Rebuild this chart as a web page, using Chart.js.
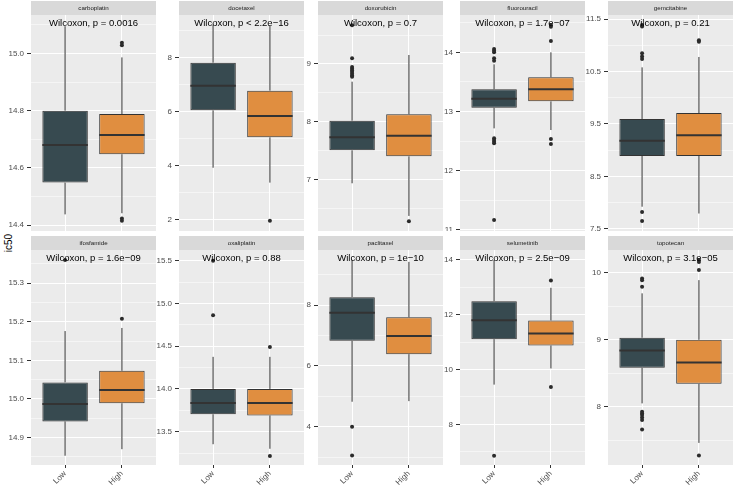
<!DOCTYPE html>
<html><head><meta charset="utf-8">
<script src="https://cdn.jsdelivr.net/npm/chart.js@4/dist/chart.umd.min.js"></script>
<style>
html,body{margin:0;padding:0;background:#fff;}
#wrap{position:relative;width:734px;height:486px;overflow:hidden;background:#fff;font-family:"Liberation Sans",Arial,sans-serif;}
#wrap canvas{position:absolute;}
#ytitle{position:absolute;left:8px;top:243px;transform:translate(-50%,-50%) rotate(-90deg);font-size:10px;color:#000;white-space:nowrap;}
</style></head><body>
<div id="wrap"><div id="ytitle">ic50</div></div>
<script>
// ---- data ----
const drugs = ['carboplatin','docetaxel','doxorubicin','fluorouracil','gemcitabine',
               'ifosfamide','oxaliplatin','paclitaxel','selumetinib','topotecan'];
const pLabels = ['Wilcoxon, p = 0.0016','Wilcoxon, p < 2.2e\u221216','Wilcoxon, p = 0.7',
                 'Wilcoxon, p = 1.7e\u221207','Wilcoxon, p = 0.21','Wilcoxon, p = 1.6e\u221209',
                 'Wilcoxon, p = 0.88','Wilcoxon, p = 1e\u221210','Wilcoxon, p = 2.5e\u221209',
                 'Wilcoxon, p = 3.1e\u221205'];
const groups = ['Low','High'];

const lowMin = [14.438, 3.93, 6.943, 12.716, 7.92, 14.853, 13.353, 4.82, 9.45, 8.05];
const lowQ1  = [14.549, 6.055, 7.512, 13.065, 8.889, 14.942, 13.704, 6.826, 11.11, 8.582];
const lowMed = [14.68, 6.965, 7.736, 13.216, 9.181, 14.987, 13.836, 7.747, 11.803, 8.84];
const lowQ3  = [14.80, 7.815, 8.022, 13.375, 9.596, 15.043, 14.0, 8.26, 12.496, 9.03];
const lowMax = [15.095, 9.22, 8.695, 13.797, 10.582, 15.176, 14.375, 9.49, 14.0, 9.693];
const lowOut = [
  [], [], [9.67, 9.098, 8.95, 8.92, 8.89, 8.86, 8.83, 8.80, 8.78],
  [14.056, 14.027, 14.0, 13.899, 13.858, 12.547, 12.519, 12.49, 12.463, 11.17],
  [11.39, 11.36, 10.85, 10.79, 10.74, 7.82, 7.647],
  [15.36], [15.5, 14.863], [4.0, 3.05], [6.85],
  [9.916, 9.89, 9.79, 7.925, 7.90, 7.875, 7.84, 7.80, 7.66]
];
const highMin = [14.442, 3.38, 6.38, 12.688, 7.79, 14.87, 13.3, 4.84, 10.04, 7.46];
const highQ1  = [14.648, 5.057, 7.408, 13.172, 8.889, 14.989, 13.69, 6.385, 10.88, 8.343];
const highMed = [14.715, 5.845, 7.764, 13.375, 9.283, 15.023, 13.836, 6.98, 11.318, 8.66];
const highQ3  = [14.788, 6.78, 8.132, 13.578, 9.71, 15.073, 14.0, 7.595, 11.79, 9.0];
const highMax = [14.986, 9.19, 9.155, 14.0, 10.78, 15.184, 14.375, 9.42, 12.985, 9.89];
const highOut = [
  [15.037, 15.028, 14.424, 14.416], [1.97], [6.29],
  [14.46, 14.43, 14.19, 12.535, 12.45], [11.1, 11.07],
  [15.208], [14.49, 13.215], [], [13.25, 9.36], [10.19, 10.16, 10.04, 7.27]
];
const yMin = [14.38, 1.59, 6.12, 10.983, 7.456, 14.829, 13.11, 2.74, 6.515, 7.13];
const yMax = [15.134, 9.58, 9.845, 14.63, 11.582, 15.386, 15.625, 9.81, 14.365, 10.34];
const yTicks = [
  ['14.4','14.6','14.8','15.0'], ['2','4','6','8'], ['7','8','9'], ['11','12','13','14'],
  ['7.5','8.5','9.5','10.5','11.5'], ['14.9','15.0','15.1','15.2','15.3'],
  ['13.5','14.0','14.5','15.0','15.5'], ['4','6','8'], ['8','10','12','14'], ['8','9','10']
];

// ---- layout / style ----
const FONT = '"Liberation Sans", Arial, sans-serif';
const LOWC = '#374A50', HIGHC = '#E08E40', LINEC = '#333333';
const panelLeft = [31, 179, 318, 460, 608];
const PW = 125, YW = 30, STRIP = 14, PADTOP = 15;
const rowTop = [0, 235], plotH = [216, 215], XH = [0, 21];
const BOXW = 0.8;

const panelPlugin = {
  id: 'panel',
  beforeDraw(chart, args, o) {
    const {ctx, chartArea: a} = chart;
    ctx.save();
    ctx.fillStyle = '#EBEBEB';
    ctx.fillRect(a.left, a.top, a.right - a.left, a.bottom - a.top);
    ctx.fillStyle = '#D9D9D9';
    ctx.fillRect(a.left, a.top - STRIP, a.right - a.left, STRIP);
    ctx.fillStyle = '#1A1A1A';
    ctx.font = '6.2px ' + FONT;
    ctx.textAlign = 'center'; ctx.textBaseline = 'middle';
    ctx.fillText(o.strip, (a.left + a.right) / 2, a.top - STRIP / 2 + 0.5);
    ctx.restore();
  },
  afterDatasetsDraw(chart, args, o) {
    const {ctx, chartArea: a} = chart;
    ctx.save();
    ctx.fillStyle = '#000';
    ctx.font = '9.5px ' + FONT;
    ctx.textAlign = 'center'; ctx.textBaseline = 'middle';
    ctx.fillText(o.label, chart.scales.x.getPixelForValue(1.5), a.top + 8);
    ctx.restore();
  }
};

const wrap = document.getElementById('wrap');

drugs.forEach((drug, i) => {
  const row = Math.floor(i / 5), col = i % 5;
  const w = PW + YW, h = PADTOP + plotH[row] + XH[row];
  const cv = document.createElement('canvas');
  cv.width = w; cv.height = h;
  cv.style.left = (panelLeft[col] - YW) + 'px';
  cv.style.top = rowTop[row] + 'px';
  cv.style.width = w + 'px'; cv.style.height = h + 'px';
  wrap.appendChild(cv);

  // ticks: majors from labels, minors halfway
  const majors = yTicks[i].map(Number);
  const step = majors[1] - majors[0];
  const tickList = [];
  for (let k = -3; k < majors.length + 3; k++) {
    const v = majors[0] + k * step;
    const m = v + step / 2;
    if (v >= yMin[i] && v <= yMax[i] && k >= 0 && k < majors.length) tickList.push({value: v, minor: false, text: yTicks[i][k]});
    else if (v >= yMin[i] && v <= yMax[i]) tickList.push({value: v, minor: true, text: ''});
    if (m >= yMin[i] && m <= yMax[i]) tickList.push({value: m, minor: true, text: ''});
  }
  tickList.sort((a, b) => a.value - b.value);

  const outliers = lowOut[i].map(v => ({x: 1, y: v})).concat(highOut[i].map(v => ({x: 2, y: v})));
  const meds = [lowMed[i], highMed[i]];
  const medData = [];
  meds.forEach((m, k) => {
    if (k) medData.push({x: k + 0.5, y: null});
    medData.push({x: k + 1 - BOXW / 2, y: m}, {x: k + 1 + BOXW / 2, y: m});
  });
  const wh = [[lowMin[i], lowQ1[i], lowQ3[i], lowMax[i]], [highMin[i], highQ1[i], highQ3[i], highMax[i]]];
  const whData = [];
  wh.forEach((s, k) => {
    const x = k + 1;
    whData.push({x, y: s[0]}, {x, y: s[1]}, {x, y: null}, {x, y: s[2]}, {x, y: s[3]}, {x, y: null});
  });

  new Chart(cv, {
    type: 'bar',
    data: {
      datasets: [
        {type: 'line', data: outliers, showLine: false, pointRadius: 2, pointBorderWidth: 0,
         pointBackgroundColor: '#2b2b2b', borderColor: '#2b2b2b'},
        {type: 'line', data: medData, borderColor: LINEC, borderWidth: 2, pointRadius: 0, spanGaps: false},
        {type: 'bar', data: [{x: 1, y: [lowQ1[i], lowQ3[i]]}, {x: 2, y: [highQ1[i], highQ3[i]]}],
         backgroundColor: [LOWC, HIGHC], borderColor: LINEC, borderWidth: 1, borderSkipped: false,
         barPercentage: BOXW, categoryPercentage: 1},
        {type: 'line', data: whData, borderColor: LINEC, borderWidth: 1, pointRadius: 0, spanGaps: false}
      ]
    },
    options: {
      responsive: false, animation: false, devicePixelRatio: 1, events: [],
      layout: {padding: {top: PADTOP, left: 0, right: 0, bottom: 0}, autoPadding: false},
      plugins: {legend: {display: false}, tooltip: {enabled: false}, title: {display: false},
                panel: {strip: drug, label: pLabels[i]}},
      scales: {
        x: {
          type: 'linear', min: 0.4, max: 2.6, offset: false,
          afterBuildTicks: s => { s.ticks = groups.map((g, k) => ({value: k + 1})); },
          afterFit: s => { s.height = XH[row]; s.paddingLeft = 0; s.paddingRight = 0; },
          ticks: {display: row === 1, autoSkip: false, minRotation: 45, maxRotation: 45,
                  color: '#4D4D4D', font: {family: FONT, size: 8}, padding: 1,
                  callback: (v, idx) => groups[idx]},
          grid: {color: '#FFFFFF', lineWidth: 1, offset: false, drawTicks: row === 1,
                 tickLength: 3, tickColor: LINEC, tickWidth: 1},
          border: {display: false}
        },
        y: {
          type: 'linear', min: yMin[i], max: yMax[i],
          afterBuildTicks: s => { s.ticks = tickList.map(t => Object.assign({}, t)); },
          afterFit: s => { s.width = YW; s.paddingTop = 0; s.paddingBottom = 0; },
          ticks: {autoSkip: false, color: '#4D4D4D', font: {family: FONT, size: 8}, padding: 3,
                  callback: (v, idx, ts) => ts[idx].text},
          grid: {color: '#FFFFFF',
                 lineWidth: c => (c.tick && c.tick.minor) ? 0.5 : 1,
                 drawTicks: true, tickLength: 4, tickWidth: 1,
                 tickColor: c => (c.tick && c.tick.minor) ? 'rgba(0,0,0,0)' : LINEC},
          border: {display: false}
        }
      }
    },
    plugins: [panelPlugin]
  });
});
</script>
</body></html>
